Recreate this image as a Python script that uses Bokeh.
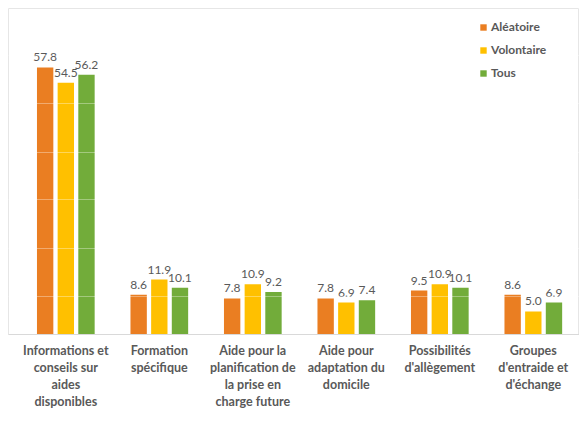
from bokeh.plotting import figure
from bokeh.models import ColumnDataSource, FixedTicker, Legend, LegendItem, LabelSet, Range1d
from bokeh.core.properties import value
from bokeh.transform import dodge
from bokeh.embed import file_html
from bokeh.resources import INLINE

categories = [
    "Informations et\nconseils sur\naides\ndisponibles",
    "Formation\nspécifique",
    "Aide pour la\nplanification de\nla prise en\ncharge future",
    "Aide pour\nadaptation du\ndomicile",
    "Possibilités\nd'allègement",
    "Groupes\nd'entraide et\nd'échange",
]
aleatoire = [57.8, 8.6, 7.8, 7.8, 9.5, 8.6]
volontaire = [54.5, 11.9, 10.9, 6.9, 10.9, 5.0]
tous = [56.2, 10.1, 9.2, 7.4, 10.1, 6.9]
series_names = ["Aléatoire", "Volontaire", "Tous"]
series_colors = ["#EA7E22", "#FFC000", "#72AC3A"]

idx = list(range(len(categories)))
source = ColumnDataSource(dict(
    x=idx,
    a=aleatoire, v=volontaire, t=tous,
    a_lbl=[f"{x:.1f}" for x in aleatoire],
    v_lbl=[f"{x:.1f}" for x in volontaire],
    t_lbl=[f"{x:.1f}" for x in tous],
))

p = figure(
    x_range=Range1d(-0.613, 5.494),
    y_range=Range1d(0, 70.56),
    width=579, height=436,
    output_backend="svg", toolbar_location=None,
    min_border_left=8, min_border_right=0, min_border_top=8, min_border_bottom=102,
)
p.outline_line_color = "#e6e6e6"
p.outline_line_width = 1
p.background_fill_color = "white"
p.border_fill_color = "white"

offsets = [-0.221, 0.0, 0.221]
cols = ["a", "v", "t"]
renderers = []
for col, off, color in zip(cols, offsets, series_colors):
    r = p.vbar(x=dodge("x", off), top=col, width=0.175,
               source=source, fill_color=color, line_color=None)
    renderers.append(r)
    labels = LabelSet(x=dodge("x", off), y=col, text=col + "_lbl",
                      source=source, text_align="center", text_baseline="alphabetic",
                      y_offset=6, text_font=value("Lato"), text_font_size=value("12px"),
                      text_color="#595959")
    p.add_layout(labels)

p.yaxis.visible = False
p.xgrid.visible = False
p.ygrid.ticker = FixedTicker(ticks=[8.2, 18.7, 29.2, 39.5, 49.9, 60.3])
p.ygrid.grid_line_color = "white"
p.ygrid.grid_line_alpha = 0.35
p.ygrid.level = "overlay"

ax = p.xaxis[0]
ax.ticker = FixedTicker(ticks=idx)
ax.major_label_overrides = {i: c for i, c in zip(idx, categories)}
ax.axis_line_color = "#d9d9d9"
ax.major_tick_line_color = None
ax.minor_tick_line_color = None
ax.major_label_text_font = "Lato"
ax.major_label_text_font_style = "bold"
ax.major_label_text_font_size = "12.5px"
ax.major_label_text_color = "#595959"
ax.major_label_text_line_height = 1.15
ax.major_label_standoff = 2

legend = Legend(
    items=[LegendItem(label=n, renderers=[r]) for n, r in zip(series_names, renderers)],
    location=(471, 252),
    orientation="vertical",
    border_line_color=None,
    background_fill_alpha=0,
    glyph_width=8, glyph_height=8,
    label_standoff=4,
    label_height=19,
    spacing=4,
    padding=0, margin=0,
    label_text_font="Lato",
    label_text_font_style="bold",
    label_text_font_size="12px",
    label_text_color="#595959",
)
p.add_layout(legend)

open("out.html", "w").write(file_html(p, INLINE))
